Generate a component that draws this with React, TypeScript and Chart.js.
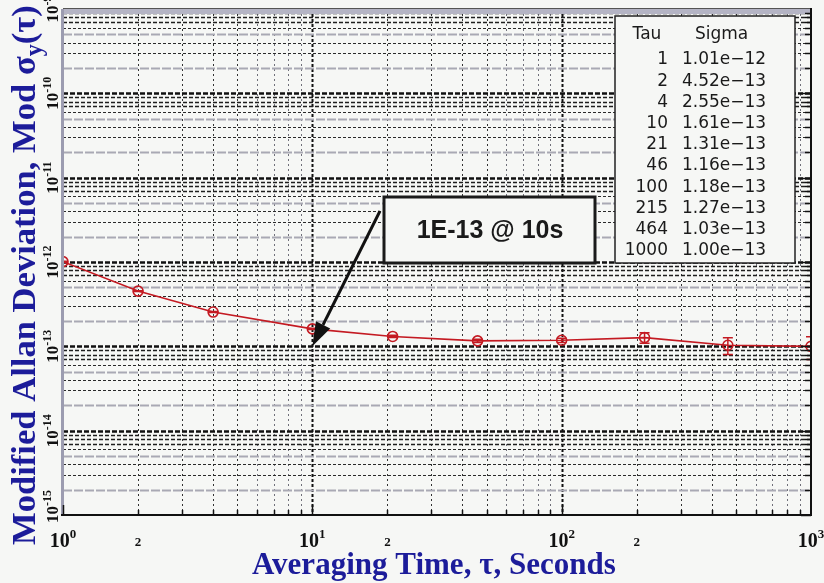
import React, { useEffect, useRef } from "react";
import { Chart, registerables } from "chart.js";

Chart.register(...registerables);

// ---- data ----
const tauValues = [1, 2, 4, 10, 21, 46, 100, 215, 464, 1000];
const sigmaValues = [1.01e-12, 4.52e-13, 2.55e-13, 1.61e-13, 1.31e-13, 1.16e-13, 1.18e-13, 1.27e-13, 1.03e-13, 1.0e-13];
const sigmaErrors = [0.01e-12, 0.04e-13, 0.03e-13, 0.03e-13, 0.04e-13, 0.05e-13, 0.07e-13, 0.18e-13, 0.23e-13, 0.3e-13];

const xDecadeExponents = [0, 1, 2, 3];
const xMinorLabelValues = [2, 20, 200];
const xMinorLabelText = "2";
const yDecadeExponents = [-15, -14, -13, -12, -11, -10, -9];
const gridMultipliers = [1, 2, 3, 4, 5, 6, 7, 8, 9];

const tableHeaders = ["Tau", "Sigma"];
const annotationText = "1E-13 @ 10s";
const annotationTau = 10;
const annotationSigma = 1e-13;
const xTitle = "Averaging Time, τ, Seconds";
const yTitleParts = ["Modified Allan Deviation, Mod σ", "y", "(τ)"];

// ---- styles ----
const BG = "#f6f7f5";
const RED = "#c41a22";
const BLUE = "#1c1c9a";
const SERIF = "'Liberation Serif', 'DejaVu Serif', serif";
const SANS = "'Liberation Sans', Arial, sans-serif";

const fmtSigma = (v: number) => v.toExponential(2).replace("-", "\u2212");

function drawGrid(chart: any) {
  const { ctx, chartArea: a, scales } = chart;
  const xs = scales.x;
  const ys = scales.y;
  ctx.save();
  ctx.beginPath();
  ctx.rect(a.left, a.top, a.right - a.left, a.bottom - a.top);
  ctx.clip();

  // vertical grid
  for (const e of xDecadeExponents) {
    if (e === xDecadeExponents[xDecadeExponents.length - 1]) continue;
    for (const m of gridMultipliers) {
      const v = m * Math.pow(10, e);
      if (v === 1) continue;
      const px = Math.round(xs.getPixelForValue(v)) + 0.5;
      let color = "#333";
      let width = 1;
      let dash = [2, 3];
      if (m === 1) { color = "#111"; width = 2; dash = [3, 2]; }
      else if (m >= 6) { color = "#70707a"; width = 1; dash = [2, 3]; }
      ctx.strokeStyle = color;
      ctx.lineWidth = width;
      ctx.setLineDash(dash);
      ctx.beginPath();
      ctx.moveTo(px, a.top);
      ctx.lineTo(px, a.bottom);
      ctx.stroke();
    }
  }

  // horizontal grid
  for (const e of yDecadeExponents) {
    if (e === yDecadeExponents[yDecadeExponents.length - 1]) continue;
    for (const m of gridMultipliers) {
      const v = m * Math.pow(10, e);
      if (v <= 1e-15 * 1.0001) continue;
      const py = Math.round(ys.getPixelForValue(v)) + 0.5;
      let color = "#2a2a2a";
      let width = 1;
      let dash = [3, 2];
      if (m === 1) { color = "#111"; width = 2.5; dash = [5, 2]; }
      else if (m >= 7) { color = "#1e1e1e"; width = 1.5; dash = [4, 2]; }
      else if (m === 2 || m === 5) { color = "#a9a9b4"; width = 2; dash = [9, 2]; }
      ctx.strokeStyle = color;
      ctx.lineWidth = width;
      ctx.setLineDash(dash);
      ctx.beginPath();
      ctx.moveTo(a.left, py);
      ctx.lineTo(a.right, py);
      ctx.stroke();
    }
  }
  ctx.setLineDash([]);
  // gray band at top edge
  ctx.fillStyle = "#b4b4c4";
  ctx.fillRect(a.left, a.top, a.right - a.left, 5);
  ctx.restore();
}

function drawErrorBars(chart: any) {
  const { ctx, chartArea: a, scales } = chart;
  const xs = scales.x;
  const ys = scales.y;
  ctx.save();
  ctx.beginPath();
  ctx.rect(a.left, a.top, a.right - a.left, a.bottom - a.top);
  ctx.clip();
  ctx.strokeStyle = RED;
  ctx.lineWidth = 1.5;
  tauValues.forEach((t, i) => {
    const px = xs.getPixelForValue(t);
    const lo = ys.getPixelForValue(sigmaValues[i] - sigmaErrors[i]);
    const hi = ys.getPixelForValue(sigmaValues[i] + sigmaErrors[i]);
    ctx.beginPath();
    ctx.moveTo(px, lo);
    ctx.lineTo(px, hi);
    ctx.moveTo(px - 5, lo);
    ctx.lineTo(px + 5, lo);
    ctx.moveTo(px - 5, hi);
    ctx.lineTo(px + 5, hi);
    ctx.stroke();
  });
  ctx.restore();
}

function drawFrameAndLabels(chart: any) {
  const { ctx, chartArea: a, scales } = chart;
  const xs = scales.x;
  const ys = scales.y;
  ctx.save();

  // frame
  ctx.setLineDash([]);
  ctx.strokeStyle = "#9c9cb0";
  ctx.lineWidth = 3;
  ctx.beginPath();
  ctx.moveTo(a.left - 0.5, a.top);
  ctx.lineTo(a.left - 0.5, a.bottom);
  ctx.stroke();
  ctx.strokeStyle = "#555";
  ctx.lineWidth = 1;
  ctx.beginPath();
  ctx.moveTo(a.left, a.top - 0.5);
  ctx.lineTo(a.right, a.top - 0.5);
  ctx.stroke();
  ctx.strokeStyle = "#111";
  ctx.lineWidth = 2;
  ctx.beginPath();
  ctx.moveTo(a.left - 2, a.bottom);
  ctx.lineTo(a.right, a.bottom);
  ctx.lineTo(a.right, a.top - 1);
  ctx.stroke();

  // bottom ticks
  ctx.lineWidth = 1.5;
  for (const e of xDecadeExponents) {
    if (e === 3) continue;
    for (const m of gridMultipliers) {
      const v = m * Math.pow(10, e);
      const px = Math.round(xs.getPixelForValue(v)) + 0.5;
      const len = m === 1 ? 10 : 5;
      ctx.beginPath();
      ctx.moveTo(px, a.bottom);
      ctx.lineTo(px, a.bottom - len);
      ctx.stroke();
    }
  }
  // right ticks
  for (const e of yDecadeExponents) {
    if (e === -9) continue;
    for (const m of gridMultipliers) {
      const v = m * Math.pow(10, e);
      const py = Math.round(ys.getPixelForValue(v)) + 0.5;
      const len = m === 1 ? 10 : 6;
      ctx.beginPath();
      ctx.moveTo(a.right, py);
      ctx.lineTo(a.right - len, py);
      ctx.stroke();
    }
  }

  // x tick labels
  ctx.fillStyle = "#111";
  ctx.textBaseline = "alphabetic";
  ctx.textAlign = "left";
  const bigX = `bold 20px ${SERIF}`;
  const supX = `bold 13px ${SERIF}`;
  xDecadeExponents.forEach((e) => {
    const px = xs.getPixelForValue(Math.pow(10, e));
    ctx.font = bigX;
    const w1 = ctx.measureText("10").width;
    ctx.font = supX;
    const w2 = ctx.measureText(String(e)).width;
    const start = px - (w1 + w2) / 2;
    ctx.font = bigX;
    ctx.fillText("10", start, 547);
    ctx.font = supX;
    ctx.fillText(String(e), start + w1, 538);
  });
  ctx.font = `bold 13px ${SERIF}`;
  ctx.textAlign = "center";
  xMinorLabelValues.forEach((v) => {
    ctx.fillText(xMinorLabelText, xs.getPixelForValue(v), 546);
  });

  // y tick labels (rotated)
  const bigY = `bold 17px ${SERIF}`;
  const supY = `bold 12px ${SERIF}`;
  ctx.textAlign = "left";
  yDecadeExponents.forEach((e) => {
    const py = ys.getPixelForValue(Math.pow(10, e));
    ctx.font = bigY;
    const w1 = ctx.measureText("10").width;
    ctx.font = supY;
    const sup = String(e);
    const w2 = ctx.measureText(sup).width;
    let start = py + (w1 + w2) / 2;
    if (start > 523) start = 523;
    ctx.save();
    ctx.translate(58, start);
    ctx.rotate(-Math.PI / 2);
    ctx.font = bigY;
    ctx.fillText("10", 0, 0);
    ctx.font = supY;
    ctx.fillText(sup, w1, -7);
    ctx.restore();
  });

  // x title
  ctx.fillStyle = BLUE;
  ctx.textAlign = "left";
  ctx.font = `bold 30px ${SERIF}`;
  const xw = ctx.measureText(xTitle).width;
  const xSize = 30 * 364 / xw;
  ctx.font = `bold ${xSize}px ${SERIF}`;
  ctx.fillText(xTitle, 252, 574);

  // y title
  const measureY = (size: number) => {
    ctx.font = `bold ${size}px ${SERIF}`;
    const a1 = ctx.measureText(yTitleParts[0]).width;
    const a3 = ctx.measureText(yTitleParts[2]).width;
    ctx.font = `bold ${size * 0.7}px ${SERIF}`;
    const a2 = ctx.measureText(yTitleParts[1]).width;
    return [a1, a2, a3];
  };
  const m0 = measureY(30);
  const ySize = 30 * 540 / (m0[0] + m0[1] + m0[2]);
  const m1 = measureY(ySize);
  ctx.save();
  ctx.translate(35, 545);
  ctx.rotate(-Math.PI / 2);
  ctx.font = `bold ${ySize}px ${SERIF}`;
  ctx.fillText(yTitleParts[0], 0, 0);
  ctx.font = `bold ${ySize * 0.7}px ${SERIF}`;
  ctx.fillText(yTitleParts[1], m1[0], ySize * 0.2);
  ctx.font = `bold ${ySize}px ${SERIF}`;
  ctx.fillText(yTitleParts[2], m1[0] + m1[1], 0);
  ctx.restore();

  // table
  ctx.fillStyle = BG;
  ctx.fillRect(615, 16, 180, 247);
  ctx.strokeStyle = "#222";
  ctx.lineWidth = 1.5;
  ctx.strokeRect(615, 16, 180, 247);
  ctx.fillStyle = "#1a1a1a";
  ctx.font = `17px 'DejaVu Sans', sans-serif`;
  ctx.textBaseline = "middle";
  ctx.textAlign = "center";
  ctx.fillText(tableHeaders[0], 647, 35);
  ctx.textAlign = "left";
  ctx.fillText(tableHeaders[1], 695, 35);
  tauValues.forEach((t, i) => {
    const ry = 60 + i * 21.2;
    ctx.textAlign = "right";
    ctx.fillText(String(t), 668, ry);
    ctx.textAlign = "left";
    ctx.fillText(fmtSigma(sigmaValues[i]), 682, ry);
  });

  // annotation box
  ctx.fillStyle = BG;
  ctx.fillRect(384, 197, 211, 66);
  ctx.strokeStyle = "#1a1a1a";
  ctx.lineWidth = 3;
  ctx.strokeRect(384, 197, 211, 66);
  ctx.fillStyle = "#1a1a1a";
  ctx.font = `bold 25px ${SANS}`;
  ctx.textAlign = "center";
  ctx.textBaseline = "middle";
  ctx.fillText(annotationText, 490, 231);

  // arrow
  const sx = 380;
  const sy = 211;
  const tx = xs.getPixelForValue(annotationTau);
  const ty = ys.getPixelForValue(annotationSigma);
  const ang = Math.atan2(ty - sy, tx - sx);
  const headLen = 24;
  const headW = 8;
  const bx = tx - headLen * Math.cos(ang);
  const by = ty - headLen * Math.sin(ang);
  ctx.strokeStyle = "#111";
  ctx.lineWidth = 3;
  ctx.beginPath();
  ctx.moveTo(sx, sy);
  ctx.lineTo(bx, by);
  ctx.stroke();
  ctx.fillStyle = "#111";
  ctx.beginPath();
  ctx.moveTo(tx, ty);
  ctx.lineTo(bx + headW * Math.sin(ang), by - headW * Math.cos(ang));
  ctx.lineTo(bx - headW * Math.sin(ang), by + headW * Math.cos(ang));
  ctx.closePath();
  ctx.fill();

  ctx.restore();
}

const customPlugin = {
  id: "allanDecor",
  beforeDraw(chart: any) {
    const { ctx, width, height } = chart;
    ctx.save();
    ctx.fillStyle = BG;
    ctx.fillRect(0, 0, width, height);
    ctx.restore();
  },
  beforeDatasetsDraw(chart: any) {
    drawGrid(chart);
  },
  afterDatasetsDraw(chart: any) {
    drawErrorBars(chart);
  },
  afterDraw(chart: any) {
    drawFrameAndLabels(chart);
  },
};

export default function App() {
  const ref = useRef<HTMLCanvasElement | null>(null);
  useEffect(() => {
    if (!ref.current) return;
    const chart = new Chart(ref.current, {
      type: "line",
      data: {
        datasets: [
          {
            data: tauValues.map((t, i) => ({ x: t, y: sigmaValues[i] })),
            borderColor: RED,
            backgroundColor: "rgba(0,0,0,0)",
            borderWidth: 1.6,
            pointRadius: 5,
            pointBorderWidth: 1.6,
            pointBackgroundColor: "rgba(0,0,0,0)",
            pointBorderColor: RED,
            tension: 0,
          },
        ],
      },
      options: {
        animation: false,
        responsive: false,
        devicePixelRatio: 1,
        events: [],
        layout: { padding: { left: 63, right: 13, top: 9, bottom: 68 } },
        plugins: { legend: { display: false }, tooltip: { enabled: false }, title: { display: false } },
        scales: {
          x: { type: "logarithmic", min: 1, max: 1000, display: false },
          y: { type: "logarithmic", min: 1e-15, max: 1e-9, display: false },
        },
      },
      plugins: [customPlugin],
    } as any);
    return () => chart.destroy();
  }, []);
  return (
    <div style={{ position: "absolute", left: 0, top: 0, width: 824, height: 583, background: BG }}>
      <canvas ref={ref} width={824} height={583} style={{ display: "block", width: 824, height: 583 }} />
    </div>
  );
}
